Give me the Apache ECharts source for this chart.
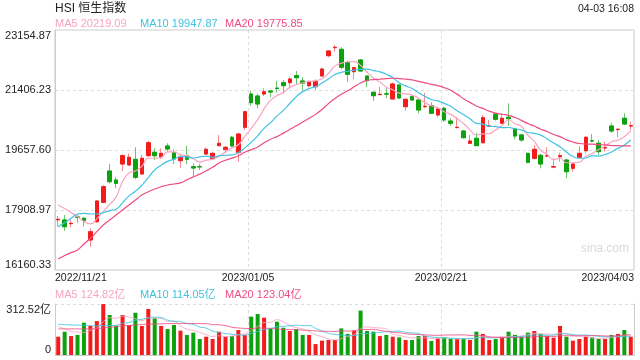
<!DOCTYPE html>
<html><head><meta charset="utf-8">
<script src="https://cdn.jsdelivr.net/npm/echarts@6/dist/echarts.min.js"></script>
<style>html,body{margin:0;padding:0;background:#fff}#c{width:640px;height:360px}</style>
</head><body><div id="c"></div>
<script>
const categories = [
'2022/11/21','2022/11/22','2022/11/23','2022/11/24','2022/11/25','2022/11/28','2022/11/29','2022/11/30',
'2022/12/01','2022/12/02','2022/12/05','2022/12/06','2022/12/07','2022/12/08','2022/12/09','2022/12/12','2022/12/13','2022/12/14','2022/12/15','2022/12/16','2022/12/19','2022/12/20','2022/12/21','2022/12/22','2022/12/23','2022/12/28','2022/12/29','2022/12/30',
'2023/01/03','2023/01/04','2023/01/05','2023/01/06','2023/01/09','2023/01/10','2023/01/11','2023/01/12','2023/01/13','2023/01/16','2023/01/17','2023/01/18','2023/01/19','2023/01/20','2023/01/26','2023/01/27','2023/01/30','2023/01/31',
'2023/02/01','2023/02/02','2023/02/03','2023/02/06','2023/02/07','2023/02/08','2023/02/09','2023/02/10','2023/02/13','2023/02/14','2023/02/15','2023/02/16','2023/02/17','2023/02/20','2023/02/21','2023/02/22','2023/02/23','2023/02/24','2023/02/27','2023/02/28',
'2023/03/01','2023/03/02','2023/03/03','2023/03/06','2023/03/07','2023/03/08','2023/03/09','2023/03/10','2023/03/13','2023/03/14','2023/03/15','2023/03/16','2023/03/17','2023/03/20','2023/03/21','2023/03/22','2023/03/23','2023/03/24','2023/03/27','2023/03/28','2023/03/29','2023/03/30','2023/03/31',
'2023/04/03'];

const openP = [17623,17618,17510,17705,17667,17035,17568,18133,19046,18783,19250,19220,19387,18958,19492,19591,19462,19774,19579,19346,
19492,19171,19175,19541,19404,19783,19678,20028,19591,20319,21290,21231,21290,21377,21460,21619,21619,21823,21669,21532,
21502,21814,22406,22640,22592,22202,21940,22281,21814,21339,21272,21295,21144,21552,20920,21211,21115,20922,20949,20678,
20873,20503,20310,20211,19853,19999,19870,20348,20707,20436,20611,20270,20095,19561,19416,19503,19482,19162,19462,19366,
19124,19445,19637,19928,19853,19715,20357,20252,20582,20356];
const closeP = [17638,17422,17521,17696,17597,17277,18171,18588,18734,18687,19492,19445,18862,19416,19870,19492,19561,19687,19395,19445,
19387,19133,19165,19678,19561,19853,19736,19774,20124,20774,21036,20998,21357,21348,21452,21532,21727,21765,21602,21648,
21648,22018,22543,22651,22068,21864,22056,21960,21677,21240,21281,21288,21581,21173,21135,21115,20823,20931,20727,20853,
20532,20436,20319,20016,19920,19783,20599,20357,20552,20582,20570,20066,19949,19299,19678,19250,19492,19171,19492,19025,
19250,19561,20028,19920,19608,19725,20211,20261,20415,20366];
const lowP = [17422,17297,17405,17539,17422,16839,17539,18104,18687,18541,19046,19191,18804,18950,19462,19366,19395,19608,19250,19142,
19250,18880,19075,19512,19387,19774,19561,19754,19317,20241,20949,20873,21231,21194,21339,21310,21485,21581,21406,21485,
21406,21794,22359,22523,22010,21648,21718,21940,21485,21094,21261,21164,21135,21164,20803,21094,20727,20873,20707,20611,
20482,20357,20290,19999,19833,19774,19853,20337,20512,20415,20357,19969,19900,19270,19387,19124,19445,19124,19317,18833,
19025,19433,19561,19882,19512,19608,20162,20028,20386,20241];
const highP = [17734,17763,17618,17763,17705,17376,18200,18638,19250,18862,19532,19561,19736,19512,19929,19707,19707,19853,19678,19512,
19783,19270,19250,19736,19591,20095,19774,20066,20162,20803,21386,21290,21456,21406,21677,21698,21776,21960,21776,21698,
21718,22056,22572,22718,22651,22260,22085,22310,21823,21357,21502,21456,21631,21581,21164,21240,21135,21319,21048,20902,
20920,20582,20611,20241,20095,20162,20678,20532,20727,20727,21019,20290,20124,19579,19803,19541,19736,19416,19579,19395,
19270,19774,20066,20124,19949,19900,20453,20290,20727,20482];

const ma5 = [18055,17953,17836,17714,17575,17503,17652,17866,18073,18291,18734,18989,19044,19180,19417,19417,19440,19605,19601,19516,
19495,19409,19305,19362,19385,19478,19599,19720,19810,20052,20289,20541,20858,21103,21238,21337,21483,21565,21616,21655,
21678,21736,21892,22102,22186,22229,22236,22120,21925,21759,21643,21489,21413,21313,21292,21258,21165,21035,20946,20890,
20773,20696,20573,20431,20245,20095,20127,20135,20242,20375,20532,20425,20344,20093,19912,19648,19534,19378,19417,19286,
19286,19300,19471,19557,19673,19768,19898,19945,20044,20219.09];
const ma10 = [17422,17539,17667,17792,17813,17792,17792,17830,17889,17933,18119,18321,18455,18627,18854,19076,19215,19325,19391,19467,
19456,19425,19455,19481,19450,19487,19504,19513,19586,19719,19883,20070,20289,20456,20645,20813,21012,21211,21359,21447,
21508,21610,21728,21859,21920,21953,21986,22006,22013,21973,21936,21863,21767,21619,21526,21451,21327,21224,21129,21091,
21016,20931,20804,20689,20567,20434,20412,20354,20337,20310,20313,20276,20239,20168,20144,20090,19980,19861,19755,19599,
19467,19417,19425,19487,19480,19527,19599,19708,19800,19947.87];
const ma20 = [16481,16583,16670,16743,16918,17084,17277,17472,17618,17763,17909,18055,18200,18346,18442,18521,18588,18638,18667,18700,
18787,18873,18955,19054,19152,19281,19359,19419,19488,19593,19670,19747,19872,19969,20048,20150,20258,20362,20472,20583,
20696,20840,21009,21157,21283,21383,21499,21609,21686,21710,21722,21736,21748,21739,21723,21702,21657,21615,21571,21532,
21476,21397,21286,21154,21046,20942,20870,20789,20733,20700,20665,20604,20522,20428,20355,20262,20196,20108,20046,19954,
19890,19847,19832,19827,19812,19809,19789,19785,19778,19775.85];

const volume = [112,143,116,123,198,178,208,312,245,180,245,184,259,178,282,225,178,159,184,149,
123,137,98,112,98,143,112,116,153,123,235,251,229,163,204,167,147,159,123,123,
67,88,92,92,163,129,149,272,147,143,116,123,112,108,92,92,116,116,86,102,
106,98,98,98,92,143,129,92,98,108,143,123,112,137,147,129,116,106,178,112,
88,98,112,108,98,98,123,129,153,112];
const volMa5 = [175,160,145,140,138.4,151.6,164.6,203.8,228.2,224.6,238,233.2,222.6,209.2,229.6,225.6,224.4,204.4,205.6,179,
158.6,150.4,138.2,123.8,113.6,117.6,112.6,116.2,124.4,129.4,147.8,175.6,198.2,200.2,216.4,202.8,182,168,160,143.8,
123.8,112,98.6,92.4,100.4,112.8,125,161,172,168,165.4,160.2,128.2,120.4,110.2,105.4,104,104.8,100.4,102.4,
105.2,101.6,98,100.4,98.4,105.8,112,110.8,110.8,114,114,112.8,116.8,124.6,132.4,129.6,128.2,127,135.2,128.2,
120,116.4,117.6,103.6,100.8,102.8,107.8,111.2,120.2,124.82];
const volMa10 = [188,186,184,183,182,180,178,180,181,181.5,194.8,198.9,213.2,218.7,227.1,231.8,228.8,213.5,207.4,204.3,
192.1,187.4,171.3,164.7,146.3,138.1,131.5,127.2,124.1,121.5,132.7,144.1,157.2,162.3,172.9,175.3,178.8,183.1,180.1,180.1,
163.3,147,133.3,126.2,122.1,118.3,118.5,129.8,132.2,134.2,139.1,142.6,144.6,146.2,139.1,135.4,132.1,116.5,110.4,106.3,
105.3,102.8,101.4,100.4,100.4,105.5,106.8,104.4,105.6,106.2,109.9,112.4,113.8,117.7,123.2,121.8,120.5,121.9,129.9,130.3,
124.8,122.3,122.3,119.4,114.5,111.4,112.1,114.4,111.9,114.05];
const volMa20 = [160,160,160,160,160,160,162,166,170,174,178,181,184,187,189,190,191,192,193,192.9,
193.5,193.2,192.3,191.7,186.7,185,180.2,170.4,165.8,162.9,162.4,165.8,164.3,163.5,159.6,156.7,155.2,155.2,152.1,150.8,
148,145.6,145.3,144.3,147.5,146.8,148.7,156.5,156.2,157.2,151.2,144.8,139,136.2,130.6,126.9,125.3,123.2,121.3,120.3,
122.2,122.7,123,123.3,119.8,120.5,119.5,110.5,108,106.3,107.6,107.6,107.6,109.1,111.8,113.7,113.7,113.2,117.8,118.3,
117.4,117.4,118.1,118.6,118.9,116.6,116.3,118.2,120.9,123.04];

const yTickValues = [16160.33, 17908.97, 19657.60, 21406.23, 23154.87];
const volTickValues = [0, 312.52];
const xTickPositions = [0, 30, 60, 90];
const xTickLabels = ['2022/11/21', '2023/01/05', '2023/02/21', '2023/04/03'];

const UP = '#f21c1c', DOWN = '#0ea10e', UP_WICK = '#f68a8a', DOWN_WICK = '#6cc46c';
const C5 = '#f9a3c0', C10 = '#3ec3e3', C20 = '#ee4c80';
const FONT = 'Arial, "Liberation Sans", "Noto Sans CJK SC", sans-serif';

const ohlc = openP.map((o, i) => [o, closeP[i], lowP[i], highP[i]]);
const bodies = openP.map((o, i) => [o, closeP[i], Math.min(o, closeP[i]), Math.max(o, closeP[i])]);
const volData = volume.map((v, i) => ({ value: v, itemStyle: { color: closeP[i] >= openP[i] ? UP : DOWN } }));
const last = a => a[a.length - 1];
const nearest = (arr, v) => arr.reduce((b, x) => Math.abs(x - v) < Math.abs(b - v) ? x : b, arr[0]);

const dashed = { color: '#dcdcdc', type: [3, 3], width: 1 };
function t(text, pos, color, size) {
  return Object.assign({ text, padding: 0, textStyle: { color, fontSize: size, fontWeight: 'normal', fontFamily: FONT } }, pos);
}

const chart = echarts.init(document.getElementById('c'), null, { renderer: 'canvas' });
chart.setOption({
  animation: false,
  backgroundColor: '#fff',
  textStyle: { fontFamily: FONT },
  title: [
    t('HSI 恒生指数', { left: 55, top: 3 }, '#222', 12),
    t('04-03 16:08', { right: 6, top: 4 }, '#222', 10.5),
    t('MA5 ' + last(ma5).toFixed(2), { left: 55, top: 18 }, C5, 11),
    t('MA10 ' + last(ma10).toFixed(2), { left: 140, top: 18 }, C10, 11),
    t('MA20 ' + last(ma20).toFixed(2), { left: 225, top: 18 }, C20, 11),
    t('MA5 ' + last(volMa5).toFixed(2) + '亿', { left: 55, top: 289 }, C5, 11),
    t('MA10 ' + last(volMa10).toFixed(2) + '亿', { left: 140, top: 289 }, C10, 11),
    t('MA20 ' + last(volMa20).toFixed(2) + '亿', { left: 225, top: 289 }, C20, 11),
    t('sina.com', { left: 581, top: 243 }, '#d9d9d9', 12)
  ],
  grid: [
    { left: 55, right: 6, top: 30, height: 240, show: true, borderColor: '#cccccc', borderWidth: 1, backgroundColor: 'transparent' },
    { left: 55, right: 6, top: 304, height: 51, show: false }
  ],
  xAxis: [
    { type: 'category', gridIndex: 0, data: categories, boundaryGap: true, position: 'top',
      axisLine: { show: false }, axisTick: { show: false }, axisLabel: { show: false }, splitLine: { show: false } },
    { type: 'category', gridIndex: 1, data: categories, boundaryGap: true,
      axisLine: { show: true, lineStyle: { color: '#cccccc' } }, axisTick: { show: false }, axisLabel: { show: false }, splitLine: { show: false } },
    { type: 'value', gridIndex: 0, min: 0, max: 90, position: 'bottom',
      axisLine: { show: false }, axisTick: { show: false, customValues: xTickPositions },
      axisLabel: { customValues: xTickPositions, margin: 3, color: '#222', fontSize: 10.5, alignMinLabel: 'left', alignMaxLabel: 'right',
        formatter: v => xTickLabels[xTickPositions.indexOf(nearest(xTickPositions, v))] },
      splitLine: { show: true, showMinLine: false, showMaxLine: false, lineStyle: dashed } },
    { type: 'value', gridIndex: 1, min: 0, max: 90, position: 'bottom',
      axisLine: { show: false }, axisTick: { show: false, customValues: xTickPositions },
      axisLabel: { show: false, customValues: xTickPositions },
      splitLine: { show: true, showMinLine: false, showMaxLine: false, lineStyle: dashed } }
  ],
  yAxis: [
    { type: 'value', gridIndex: 0, min: yTickValues[0], max: last(yTickValues), scale: true,
      axisLine: { show: true, lineStyle: { color: '#cccccc' } }, axisTick: { show: false, customValues: yTickValues },
      axisLabel: { customValues: yTickValues, color: '#222', fontSize: 11, margin: 4,
        verticalAlignMinLabel: 'bottom', verticalAlignMaxLabel: 'top',
        formatter: v => nearest(yTickValues, v).toFixed(2) },
      splitLine: { show: true, showMinLine: false, showMaxLine: false, lineStyle: dashed } },
    { type: 'value', gridIndex: 1, min: 0, max: last(volTickValues),
      axisLine: { show: true, lineStyle: { color: '#cccccc' } }, axisTick: { show: false, customValues: volTickValues },
      axisLabel: { customValues: volTickValues, color: '#222', fontSize: 11, margin: 4,
        verticalAlignMinLabel: 'bottom', verticalAlignMaxLabel: 'top',
        formatter: v => { const n = nearest(volTickValues, v); return n === 0 ? '0' : n.toFixed(2) + '亿'; } },
      splitLine: { show: true, showMinLine: false, showMaxLine: true, lineStyle: dashed } },
    { type: 'value', gridIndex: 1, position: 'right', min: 0, max: 1,
      axisLine: { show: true, lineStyle: { color: '#cccccc' } }, axisTick: { show: false }, axisLabel: { show: false }, splitLine: { show: false } }
  ],
  series: [
    { name: 'wick', type: 'candlestick', xAxisIndex: 0, yAxisIndex: 0, data: ohlc, barWidth: 4,
      itemStyle: { color: UP_WICK, color0: DOWN_WICK, borderColor: UP_WICK, borderColor0: DOWN_WICK, borderWidth: 1 } },
    { name: 'body', type: 'candlestick', xAxisIndex: 0, yAxisIndex: 0, data: bodies, barWidth: 4, z: 3,
      itemStyle: { color: UP, color0: DOWN, borderColor: UP, borderColor0: DOWN, borderWidth: 1 } },
    { name: 'MA5', type: 'line', xAxisIndex: 0, yAxisIndex: 0, data: ma5, smooth: true, showSymbol: false, z: 4,
      lineStyle: { color: C5, width: 1.2 } },
    { name: 'MA10', type: 'line', xAxisIndex: 0, yAxisIndex: 0, data: ma10, smooth: true, showSymbol: false, z: 4,
      lineStyle: { color: C10, width: 1.2 } },
    { name: 'MA20', type: 'line', xAxisIndex: 0, yAxisIndex: 0, data: ma20, smooth: true, showSymbol: false, z: 4,
      lineStyle: { color: C20, width: 1.2 } },
    { name: 'VOL', type: 'bar', xAxisIndex: 1, yAxisIndex: 1, data: volData, barWidth: 4 },
    { name: 'VMA5', type: 'line', xAxisIndex: 1, yAxisIndex: 1, data: volMa5, smooth: true, showSymbol: false, z: 4,
      lineStyle: { color: C5, width: 1, opacity: 0.85 } },
    { name: 'VMA10', type: 'line', xAxisIndex: 1, yAxisIndex: 1, data: volMa10, smooth: true, showSymbol: false, z: 4,
      lineStyle: { color: C10, width: 1, opacity: 0.85 } },
    { name: 'VMA20', type: 'line', xAxisIndex: 1, yAxisIndex: 1, data: volMa20, smooth: true, showSymbol: false, z: 4,
      lineStyle: { color: C20, width: 1, opacity: 0.85 } }
  ]
});
</script></body></html>
